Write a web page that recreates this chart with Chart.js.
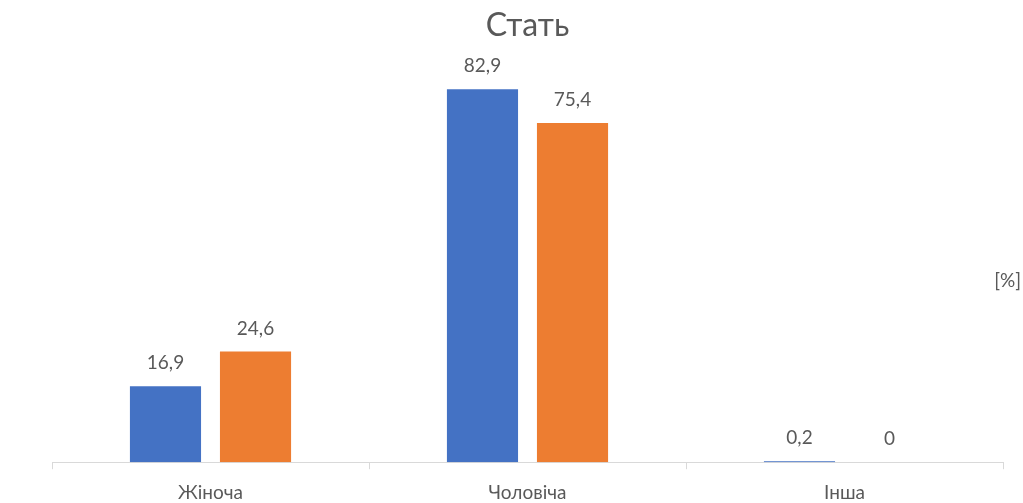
<!DOCTYPE html>
<html>
<head>
<meta charset="utf-8">
<script src="https://cdn.jsdelivr.net/npm/chart.js@4/dist/chart.umd.min.js"></script>
<style>
  html, body { margin: 0; padding: 0; background: #fff; overflow: hidden; }
  #wrap { width: 1023px; height: 516px; }
</style>
</head>
<body>
<div id="wrap"><canvas id="gender"></canvas></div>
<script>
var categories = ['Жіноча', 'Чоловіча', 'Інша'];
var seriesA = [16.9, 82.9, 0.2];
var seriesB = [24.6, 75.4, 0];
var seriesColors = ['#4472C4', '#ED7D31'];
var unitLabel = '[%]';
var fontFamily = 'Lato, "Open Sans", sans-serif';
var textColor = '#595959';

// draws values above bars and the unit text on the right
var valueLabels = {
  id: 'valueLabels',
  afterDatasetsDraw: function (chart) {
    var ctx = chart.ctx;
    ctx.save();
    ctx.fillStyle = textColor;
    ctx.font = '19px ' + fontFamily;
    ctx.textAlign = 'center';
    ctx.textBaseline = 'alphabetic';
    chart.data.datasets.forEach(function (ds, i) {
      chart.getDatasetMeta(i).data.forEach(function (bar, j) {
        var txt = String(ds.data[j]).replace('.', ',');
        ctx.fillText(txt, bar.x, bar.y - 17);
      });
    });
    ctx.textAlign = 'right';
    ctx.textBaseline = 'middle';
    ctx.fillText(unitLabel, chart.width - 2, 281);
    ctx.restore();
  }
};

var config = {
  type: 'bar',
  plugins: [valueLabels],
  data: {
    labels: categories,
    datasets: [
      { label: '1', data: seriesA, backgroundColor: seriesColors[0] },
      { label: '2', data: seriesB, backgroundColor: seriesColors[1] }
    ]
  },
  options: {
    responsive: true,
    maintainAspectRatio: false,
    animation: false,
    layout: { padding: { left: 52, right: 20, top: 0, bottom: 0 } },
    datasets: {
      bar: { categoryPercentage: 0.568, barPercentage: 0.79 }
    },
    plugins: {
      legend: { display: false },
      tooltip: { enabled: false },
      title: {
        display: true,
        text: 'Стать',
        color: textColor,
        font: { family: fontFamily, size: 32, weight: 'normal' },
        padding: { top: 6, bottom: 13 }
      }
    },
    scales: {
      y: {
        display: false,
        min: 0,
        max: 90
      },
      x: {
        border: { display: true, color: '#d9d9d9', width: 1 },
        grid: {
          offset: true,
          drawOnChartArea: false,
          drawTicks: true,
          tickLength: 7,
          color: '#d9d9d9'
        },
        ticks: {
          color: textColor,
          padding: 12,
          font: { family: fontFamily, size: 19 }
        }
      }
    }
  }
};

new Chart(document.getElementById('gender').getContext('2d'), config);
</script>
</body>
</html>
